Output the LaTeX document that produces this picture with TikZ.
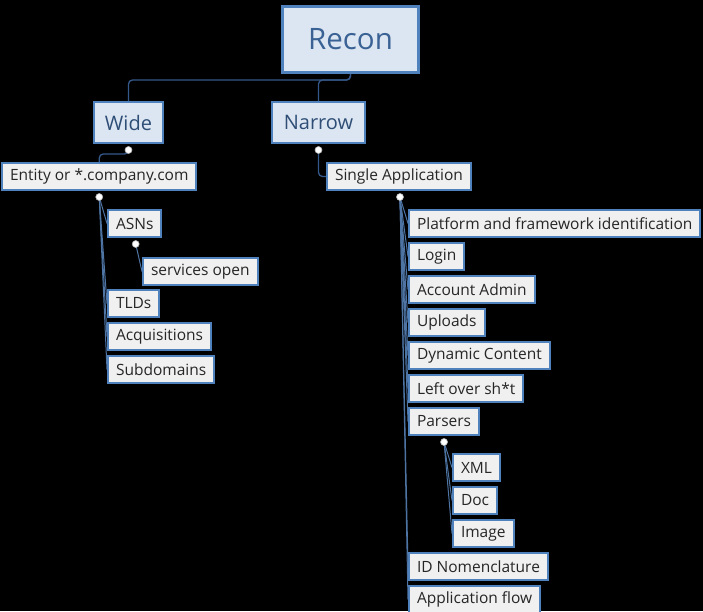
\documentclass[tikz,border=0pt]{standalone}
\usepackage{fontspec}
\setmainfont{Open Sans}
\usetikzlibrary{positioning,calc}
\definecolor{boxblue}{HTML}{4F81BD}
\definecolor{topfill}{HTML}{DCE6F2}
\definecolor{toptext}{HTML}{3A6294}
\definecolor{leaffill}{HTML}{F0F0F0}
\definecolor{linkdark}{HTML}{35598A}
\definecolor{linkleaf}{HTML}{4D74A3}

\begin{document}
\begin{tikzpicture}[x=1pt, y=-1pt,
    root/.style={draw=boxblue, line width=3pt, fill=topfill, text=toptext, minimum width=136, minimum height=66, font=\fontsize{29.5}{33}\selectfont},
    branch/.style={draw=boxblue, line width=2pt, fill=topfill, text=toptext!80!black, minimum height=41, inner xsep=9, font=\fontsize{20}{24}\selectfont},
    leaf/.style={draw=boxblue, line width=2pt, fill=leaffill, text=black!85, minimum height=27, inner xsep=8, anchor=north west, font=\fontsize{15.5}{18}\selectfont},
    knob/.style={circle, draw=gray!60, fill=white, line width=0.6pt, inner sep=0pt, minimum size=7},
    link/.style={draw=linkdark, line width=1.3pt, rounded corners=4},
    sublink/.style={draw=linkleaf, line width=1pt}
]

% Background
\fill[black] (0,0) rectangle (703,611);
\useasboundingbox (0,0) rectangle (703,611);

% Root and main branches
\node[root] (recon) at (350.5,39.5) {Recon};
\node[branch, minimum width=69] (wide) at (128.5,122.5) {Wide};
\node[branch, minimum width=93] (narrow) at (318.5,122.5) {Narrow};
\draw[link] (recon.south) -- ++(0,6) -| (wide.north);
\draw[link] (recon.south) -- ++(0,6) -| (narrow.north);

% Wide side
\node[leaf] (entity) at (1,162) {Entity or *.company.com};
\node[leaf] (asns) at (107,209) {ASNs};
\node[leaf] (services) at (142,257) {services open};
\node[leaf] (tlds) at (107,289) {TLDs};
\node[leaf] (acquisitions) at (107,322) {Acquisitions};
\node[leaf] (subdomains) at (107,355) {Subdomains};

\coordinate (wideknob) at ($(wide.south)+(0,6)$);
\coordinate (entityknob) at ($(entity.south)+(0,6)$);
\coordinate (asnknob) at ($(asns.south)+(1,6)$);
\draw[link] (wideknob) |- ($(entity.north)+(0,-8)$) -- (entity.north);
\draw[sublink] (entityknob) -- (asns.west);
\draw[sublink] (entityknob) -- (tlds.west);
\draw[sublink] (entityknob) -- (acquisitions.west);
\draw[sublink] (entityknob) -- (subdomains.west);
\draw[sublink] (asnknob) -- (services.west);

% Narrow side
\node[leaf] (single) at (326,162) {Single Application};
\node[leaf] (platform) at (408,209) {Platform and framework identification};
\node[leaf] (login) at (408,242) {Login};
\node[leaf] (account) at (408,275) {Account Admin};
\node[leaf] (uploads) at (408,308) {Uploads};
\node[leaf] (dynamic) at (408,341) {Dynamic Content};
\node[leaf] (leftover) at (408,374) {Left over sh*t};
\node[leaf] (parsers) at (408,407) {Parsers};
\node[leaf] (xml) at (452,453) {XML};
\node[leaf] (doc) at (452,486) {Doc};
\node[leaf] (image) at (452,519) {Image};
\node[leaf] (nomenclature) at (408,552) {ID Nomenclature};
\node[leaf] (flow) at (408,585) {Application flow};

\coordinate (narrowknob) at ($(narrow.south)+(0,6)$);
\coordinate (singleknob) at ($(single.south)+(1,6)$);
\coordinate (parserknob) at ($(parsers.south)+(0,6)$);
\draw[link] (narrowknob) |- (single.west);
\foreach \item in {platform,login,account,uploads,dynamic,leftover,parsers,nomenclature,flow}
  \draw[sublink] (singleknob) -- (\item.west);
\foreach \item in {xml,doc,image}
  \draw[sublink] (parserknob) -- (\item.west);

% Collapse knobs
\foreach \k in {wideknob,entityknob,asnknob,narrowknob,singleknob,parserknob}
  \node[knob] (\k dot) at (\k) {};

\end{tikzpicture}
\end{document}
